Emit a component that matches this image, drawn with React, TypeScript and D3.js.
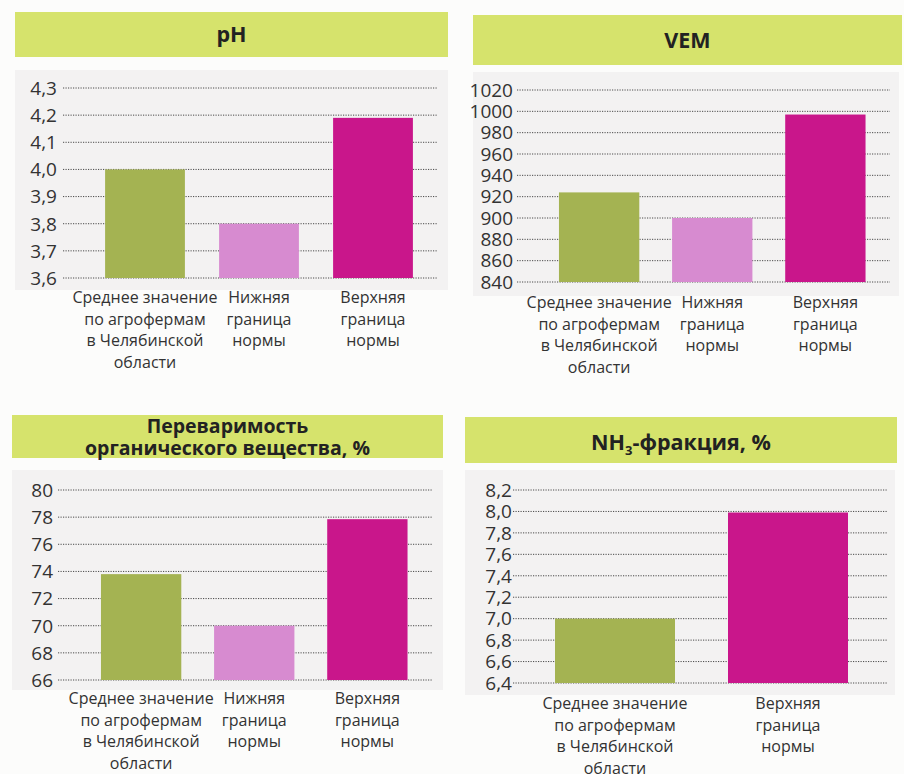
import { scaleBand, scaleLinear } from "d3";

const WIDTH = 904;
const HEIGHT = 774;

const GREEN = "#a4b352";
const PINK = "#d78bd0";
const MAGENTA = "#c9168b";
const HEADER = "#d6e36c";

const catAverage = ["Среднее значение", "по агрофермам", "в Челябинской", "области"];
const catLower = ["Нижняя", "граница", "нормы"];
const catUpper = ["Верхняя", "граница", "нормы"];

const phValues = [4.0, 3.8, 4.19];
const phTicks = [3.6, 3.7, 3.8, 3.9, 4.0, 4.1, 4.2, 4.3];

const vemValues = [924, 900, 997];
const vemTicks = [840, 860, 880, 900, 920, 940, 960, 980, 1000, 1020];

const digestValues = [73.8, 70, 77.85];
const digestTicks = [66, 68, 70, 72, 74, 76, 78, 80];

const nh3Values = [7.0, 7.99];
const nh3Ticks = [6.4, 6.6, 6.8, 7.0, 7.2, 7.4, 7.6, 7.8, 8.0, 8.2];

type Layout = {
  header: [number, number, number, number];
  titleY: number[];
  yRange: [number, number];
  labelX: number;
  grid: [number, number];
  band: [number, number];
  padIn: number;
  padOut: number;
  catY: number;
  plotBg: [number, number, number, number];
};

function formatTick(v: number, decimals: number) {
  return v.toFixed(decimals).replace(".", ",");
}

function Panel({
  title,
  cats,
  values,
  colors,
  ticks,
  decimals,
  layout
}: {
  title: React.ReactNode[];
  cats: string[][];
  values: number[];
  colors: string[];
  ticks: number[];
  decimals: number;
  layout: Layout;
}) {
  const y = scaleLinear()
    .domain([ticks[0], ticks[ticks.length - 1]])
    .range(layout.yRange);
  const x = scaleBand<number>()
    .domain(values.map((_, i) => i))
    .range(layout.band)
    .paddingInner(layout.padIn)
    .paddingOuter(layout.padOut);
  const [hx, hy, hw, hh] = layout.header;
  const cx = hx + hw / 2;
  const [bx, by, bw, bh] = layout.plotBg;

  return (
    <g>
      <rect x={bx} y={by} width={bw} height={bh} fill="#f3f2f2" />
      <rect x={hx} y={hy} width={hw} height={hh} fill={HEADER} />
      {title.map((t, i) => (
        <text
          key={i}
          x={cx}
          y={layout.titleY[i]}
          textAnchor="middle"
          fontFamily="'Open Sans', sans-serif"
          fontWeight={700}
          fontSize={title.length === 1 ? 21.5 : 19.5}
          fill="#222"
        >
          {t}
        </text>
      ))}

      {ticks.map((t) => (
        <g key={t}>
          <line
            x1={layout.grid[0]}
            x2={layout.grid[1]}
            y1={y(t)}
            y2={y(t)}
            stroke="#4a4a4a"
            strokeWidth={1}
            strokeDasharray="1.2 1.3"
          />
          <text
            x={layout.labelX}
            y={y(t) + 6.8}
            textAnchor="end"
            fontFamily="'Open Sans', sans-serif"
            fontSize={19}
            fill="#333"
          >
            {formatTick(t, decimals)}
          </text>
        </g>
      ))}

      {values.map((v, i) => {
        const bx0 = x(i) ?? 0;
        return (
          <g key={i}>
            <rect
              x={bx0}
              y={y(v)}
              width={x.bandwidth()}
              height={y(ticks[0]) - y(v)}
              fill={colors[i]}
            />
            {cats[i].map((line, j) => (
              <text
                key={j}
                x={bx0 + x.bandwidth() / 2}
                y={layout.catY + j * 21.7}
                textAnchor="middle"
                fontFamily="'Open Sans', sans-serif"
                fontSize={16}
                fill="#333"
              >
                {line}
              </text>
            ))}
          </g>
        );
      })}
    </g>
  );
}

export default function App() {
  return (
    <svg
      width={WIDTH}
      height={HEIGHT}
      viewBox={`0 0 ${WIDTH} ${HEIGHT}`}
      style={{ position: "absolute", left: 0, top: 0, background: "#fcfcfb" }}
    >
      <Panel
        title={["pH"]}
        cats={[catAverage, catLower, catUpper]}
        values={phValues}
        colors={[GREEN, PINK, MAGENTA]}
        ticks={phTicks}
        decimals={1}
        layout={{
          header: [15, 12, 433, 45],
          titleY: [42],
          yRange: [278, 88],
          labelX: 57,
          grid: [63, 438],
          band: [88, 430],
          padIn: 0.3,
          padOut: 0.15,
          catY: 303,
          plotBg: [15, 70, 433, 220]
        }}
      />
      <Panel
        title={["VEM"]}
        cats={[catAverage, catLower, catUpper]}
        values={vemValues}
        colors={[GREEN, PINK, MAGENTA]}
        ticks={vemTicks}
        decimals={0}
        layout={{
          header: [473, 15, 429, 50],
          titleY: [48],
          yRange: [282, 90],
          labelX: 513,
          grid: [517, 890],
          band: [542, 882.5],
          padIn: 0.29,
          padOut: 0.15,
          catY: 308,
          plotBg: [473, 72, 426, 224]
        }}
      />
      <Panel
        title={["Переваримость", "органического вещества, %"]}
        cats={[catAverage, catLower, catUpper]}
        values={digestValues}
        colors={[GREEN, PINK, MAGENTA]}
        ticks={digestTicks}
        decimals={0}
        layout={{
          header: [12, 415, 431, 43],
          titleY: [433, 455],
          yRange: [680, 490],
          labelX: 53,
          grid: [58, 433],
          band: [84, 424.5],
          padIn: 0.29,
          padOut: 0.15,
          catY: 704,
          plotBg: [12, 470, 431, 220]
        }}
      />
      <Panel
        title={[
          <>
            NH
            <tspan fontSize={13} dy={5}>3</tspan>
            <tspan dy={-5}>-фракция, %</tspan>
          </>
        ]}
        cats={[catAverage, catUpper]}
        values={nh3Values}
        colors={[GREEN, MAGENTA]}
        ticks={nh3Ticks}
        decimals={1}
        layout={{
          header: [465, 417, 432, 46],
          titleY: [450],
          yRange: [683, 490],
          labelX: 512,
          grid: [513, 887],
          band: [537.7, 865.3],
          padIn: 0.3064,
          padOut: 0.1,
          catY: 709,
          plotBg: [465, 470, 430, 225]
        }}
      />
    </svg>
  );
}
